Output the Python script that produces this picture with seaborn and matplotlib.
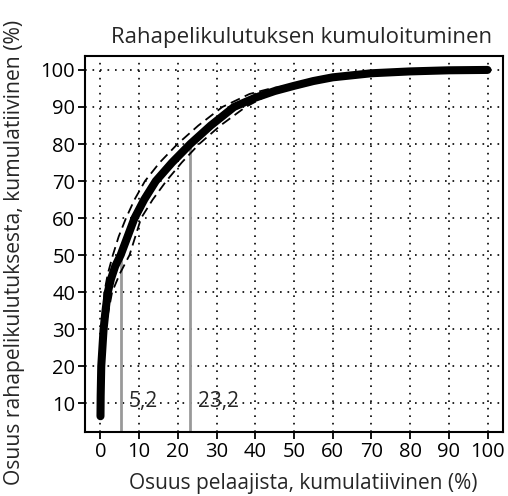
import matplotlib
matplotlib.use("Agg")
import matplotlib.pyplot as plt
import seaborn as sns

sns.set_style("white")
plt.rcParams['font.family'] = ['Open Sans', 'DejaVu Sans']

# Main cumulative curve (share of players %, share of spending %)
main_x = [0, 0.05, 0.2, 0.8, 1.3, 1.9, 2.7, 3.8, 5.2, 7.0, 8.8, 11.3, 14.3, 18.5, 23.2, 28.5, 34.5, 40, 45, 50, 55, 60, 70, 80, 90, 100]
main_y = [6.5, 12, 20, 30, 35, 40, 43.5, 47, 50, 55, 60, 65, 70, 75, 80, 85, 90, 92.5, 94.3, 95.7, 97.0, 98.0, 99.1, 99.6, 99.9, 100]

# Upper confidence band
upper_x = [0.2, 0.5, 1.0, 1.9, 3.2, 4.7, 6.6, 8.8, 11.5, 15.3, 19.9, 25.3, 31.5, 38.5, 44, 48]
upper_y = [25, 30, 40, 45, 50, 55, 60, 65, 70, 75, 80, 85, 90, 93.5, 95, 95.7]

# Lower confidence band
lower_x = [0.6, 1.2, 3.0, 5.0, 7.5, 9.0, 10.5, 13.5, 17.0, 21.0, 25.5, 31.0, 37.5, 42, 46, 50]
lower_y = [25, 30, 40, 45, 50, 55, 60, 65, 70, 75, 80, 85, 90, 92.5, 94.3, 95.7]

# Marked points
mark_x = [5.2, 23.2]
mark_y = [50, 80]
mark_labels = ["5,2", "23,2"]

x_ticks = list(range(0, 101, 10))
y_ticks = list(range(10, 101, 10))

title = "Rahapelikulutuksen kumuloituminen"
xlabel = "Osuus pelaajista, kumulatiivinen (%)"
ylabel = "Osuus rahapelikulutuksesta, kumulatiivinen (%)"

fig = plt.figure(figsize=(5.08, 4.96), dpi=100)
ax = fig.add_axes([85/508, 1-432/496, (503-85)/508, (432-56)/496])

ax.set_xlim(-4, 104)
ax.set_ylim(2.24, 103.76)

# grid
for xv in x_ticks:
    ax.axvline(xv, color='black', lw=1.2, linestyle=(0, (1, 3.5)), zorder=1)
for yv in y_ticks:
    ax.axhline(yv, color='black', lw=1.2, linestyle=(0, (1, 3.5)), zorder=1)

# marker lines
for mx, my in zip(mark_x, mark_y):
    ax.plot([mx, mx], [2.24, my], color='#999999', lw=2.0, zorder=2, solid_capstyle='butt')
for mx, lab in zip(mark_x, mark_labels):
    ax.text(mx + 2.0, 10.6, lab, fontsize=15, ha='left', va='center', zorder=3)

sns.lineplot(x=upper_x, y=upper_y, ax=ax, color='black', lw=1.3, sort=False,
             estimator=None, linestyle=(0, (5.5, 3)), zorder=3)
sns.lineplot(x=lower_x, y=lower_y, ax=ax, color='black', lw=1.3, sort=False,
             estimator=None, linestyle=(0, (5.5, 3)), zorder=3)
sns.lineplot(x=main_x, y=main_y, ax=ax, color='black', lw=5.8, sort=False,
             estimator=None, zorder=4)
for l in ax.get_lines()[-1:]:
    l.set_solid_capstyle('round')
    l.set_solid_joinstyle('round')

ax.set_xticks(x_ticks)
ax.set_yticks(y_ticks)
ax.tick_params(axis='both', direction='out', length=5, width=1.3, labelsize=14.5,
               color='black', labelcolor='black', pad=2, left=True, bottom=True)
for s in ax.spines.values():
    s.set_color('black')
    s.set_linewidth(1.5)
    s.set_visible(True)

fig.text(302/508, 1-37/496, title, ha='center', va='center', fontsize=16)
fig.text(303/508, 1-484/496, xlabel, ha='center', va='center', fontsize=15)
fig.text(15/508, 1-252/496, ylabel, ha='center', va='center', fontsize=15.2, rotation=90)

fig.savefig("out.png", dpi=100)
